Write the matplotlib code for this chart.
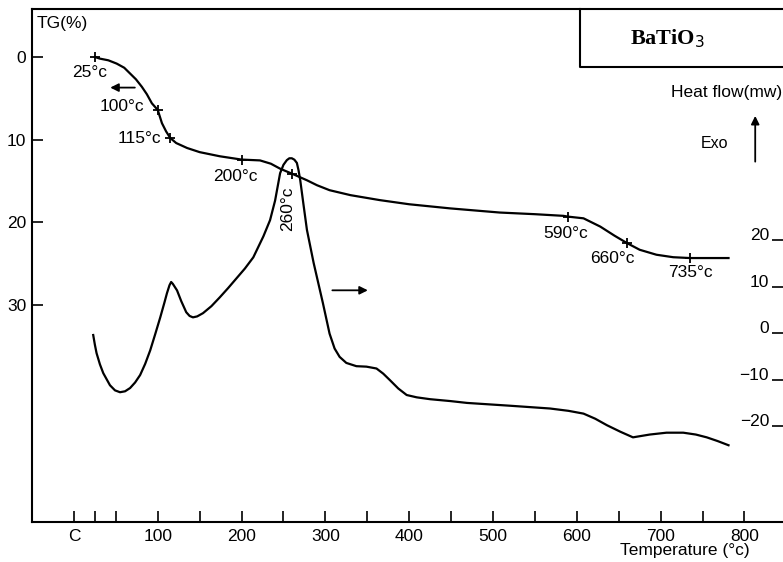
import numpy as np
import matplotlib.pyplot as plt

plt.rcParams['font.family'] = ['Liberation Sans', 'DejaVu Sans']
plt.rcParams['font.size'] = 12.5

# TG curve, weight loss (%) against temperature (°C)
tg_temp = [25, 31, 41, 51, 60, 67, 74, 81, 87, 93, 100, 105, 110, 115, 122, 135, 150,
           174, 200, 222, 235, 246, 260, 278, 290, 305, 330, 365, 400, 449, 508, 550,
           584, 590, 608, 628, 645, 660, 675, 695, 715, 735, 781]
tg_loss = [0.0, 0.2, 0.4, 0.8, 1.3, 2.0, 2.7, 3.6, 4.5, 5.6, 6.4, 8.0, 9.0, 9.8, 10.4,
           11.0, 11.5, 12.0, 12.4, 12.5, 12.9, 13.5, 14.1, 14.9, 15.5, 16.1, 16.7, 17.3,
           17.8, 18.3, 18.8, 19.0, 19.2, 19.3, 19.5, 20.5, 21.6, 22.5, 23.3, 23.9, 24.2,
           24.3, 24.3]

# temperatures flagged on the TG curve
mark_temp = [25, 100, 115, 200, 260, 590, 660, 735]

# DSC curve, heat flow (mW) against temperature (°C)
hf_temp = [23, 25, 27, 31, 35, 43, 49, 55, 61, 67, 73, 79, 85, 91, 97, 103, 108, 111,
           114, 116, 118, 123, 128, 134, 138, 142, 147, 154, 164, 174, 184, 194, 204,
           214, 218, 226, 234, 240, 246, 250, 254, 257, 260, 263, 266, 268, 270, 274,
           278, 286, 297, 305, 311, 317, 325, 337, 349, 361, 369, 377, 387, 397, 409,
           425, 449, 469, 520, 568, 590, 608, 622, 636, 652, 667, 687, 707, 727, 742,
           755, 768, 781]
hf_flow = [-0.4, -2.5, -4.3, -6.7, -8.6, -11.2, -12.3, -12.7, -12.5, -11.8, -10.6, -9.0,
           -6.6, -3.7, -0.2, 3.4, 6.6, 8.6, 10.3, 11.0, 10.6, 9.2, 6.9, 4.5, 3.7, 3.4, 3.6,
           4.3, 5.8, 7.7, 9.7, 11.8, 13.9, 16.3, 17.8, 20.8, 24.3, 28.5, 34.4, 36.2, 37.2,
           37.6, 37.6, 37.3, 36.6, 35.0, 32.9, 27.5, 22.2, 15.1, 6.5, -0.1, -3.3, -5.1,
           -6.4, -7.1, -7.2, -7.6, -8.7, -10.1, -11.9, -13.3, -13.8, -14.2, -14.6, -15.0,
           -15.6, -16.2, -16.7, -17.3, -18.4, -19.8, -21.2, -22.4, -21.8, -21.4, -21.4,
           -21.8, -22.4, -23.2, -24.1]

x_major = [0, 100, 200, 300, 400, 500, 600, 700, 800]
x_labels = ['C', '100', '200', '300', '400', '500', '600', '700', '800']
x_minor = [25, 50, 150, 250, 350, 450, 550, 650, 750]
tg_ticks = [0, 10, 20, 30]
hf_ticks = [20, 10, 0, -10, -20]

fig = plt.figure(figsize=(7.83, 5.62), dpi=100)
ax = fig.add_axes([0.0409, 0.0712, 0.9591, 0.9128])

ax.plot(tg_temp, tg_loss, color='k', lw=1.6, solid_joinstyle='round')
idx = [tg_temp.index(t) for t in mark_temp]
ax.plot([tg_temp[i] for i in idx], [tg_loss[i] for i in idx], ls='none',
        marker='+', ms=7, mew=1.3, color='k')

ax.set_xlim(-50, 846)
ax.set_ylim(56.2, -5.8)
ax.set_xticks(x_major)
ax.set_xticklabels(x_labels)
ax.set_xticks(x_minor, minor=True)
ax.set_yticks(tg_ticks)
ax.tick_params(axis='x', which='both', direction='in', length=8, width=1.2, pad=5)
ax.tick_params(axis='y', direction='in', length=8, width=1.2, pad=4)
ax.spines['right'].set_visible(False)
for s in ['left', 'bottom', 'top']:
    ax.spines[s].set_linewidth(1.5)

# temperature labels next to the markers
labels = [('25°c', 19, 1.9, 0), ('100°c', 57, 6.0, 0), ('115°c', 78, 9.8, 0),
          ('200°c', 193, 14.5, 0), ('260°c', 255, 18.4, 90), ('590°c', 587, 21.3, 0),
          ('660°c', 642, 24.3, 0), ('735°c', 735, 26.1, 0)]
for txt, x, y, rot in labels:
    ax.text(x, y, txt, ha='center', va='center', rotation=rot)

ax.annotate('', xy=(40, 3.7), xytext=(76, 3.7),
            arrowprops=dict(arrowstyle='-|>', color='k', lw=1.3, mutation_scale=12))
ax.annotate('', xy=(354, 28.2), xytext=(305, 28.2),
            arrowprops=dict(arrowstyle='-|>', color='k', lw=1.3, mutation_scale=12))
ax.text(-45, -4.1, 'TG(%)', ha='left', va='center')

# heat flow on the second scale, labels drawn just inside the right edge
ax2 = ax.twinx()
ax2.plot(hf_temp, hf_flow, color='k', lw=1.6, solid_joinstyle='round')
ax2.set_ylim(-40.6, 69.7)
for s in ax2.spines.values():
    s.set_visible(False)
ax2.yaxis.set_ticks_position('left')
ax2.spines['left'].set_position(('axes', 1.0))
ax2.set_yticks(hf_ticks)
ax2.set_yticklabels(['20', '10', '0', '−10', '−20'])
ax2.tick_params(axis='y', direction='out', length=8, width=1.2, pad=2)
for lab in ax2.get_yticklabels():
    lab.set_va('baseline')

# sample box
ax.plot([0.730, 0.730, 1.0], [1.0, 0.887, 0.887], color='k', lw=1.5,
        transform=ax.transAxes, clip_on=False)
ax.text(0.846, 0.942, r'BaTiO$_3$', transform=ax.transAxes, ha='center', va='center',
        fontsize=16, fontweight='bold', family='Liberation Serif')

ax.text(0.999, 0.838, 'Heat flow(mw)', transform=ax.transAxes, ha='right', va='center')
ax.text(0.909, 0.737, 'Exo', transform=ax.transAxes, ha='center', va='center', fontsize=11.5)
ax.annotate('', xy=(0.963, 0.797), xytext=(0.963, 0.697), xycoords='axes fraction',
            arrowprops=dict(arrowstyle='-|>', color='k', lw=1.3, mutation_scale=12))

fig.text(0.875, 0.021, 'Temperature (°c)', ha='center', va='center')

fig.savefig('out.png', dpi=100)
